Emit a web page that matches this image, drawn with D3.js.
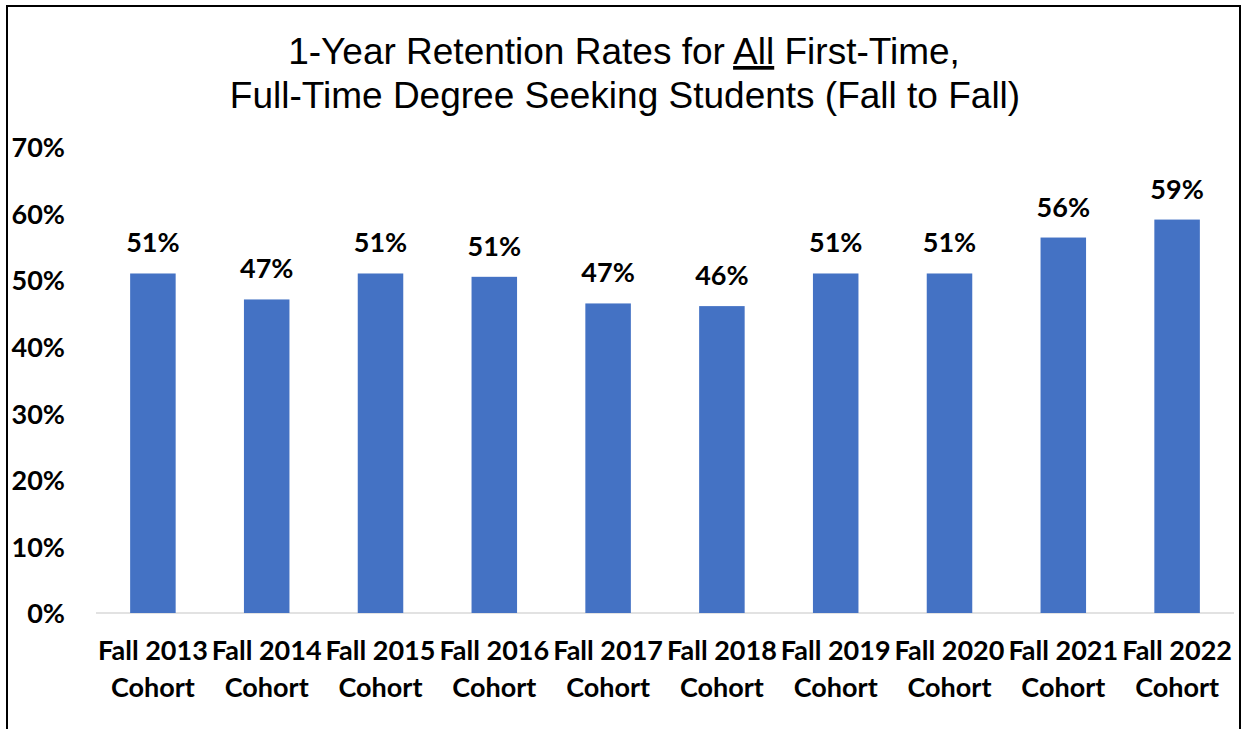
<!DOCTYPE html>
<html>
<head>
<meta charset="utf-8">
<script src="https://cdn.jsdelivr.net/npm/d3@7"></script>
<style>
  html, body { margin: 0; padding: 0; background: #fff; }
  svg { display: block; }
</style>
</head>
<body>
<svg id="chart" width="1244" height="729"></svg>
<script>
const categories = ["Fall 2013", "Fall 2014", "Fall 2015", "Fall 2016", "Fall 2017",
                    "Fall 2018", "Fall 2019", "Fall 2020", "Fall 2021", "Fall 2022"];
const categorySuffix = "Cohort";
const retention = [51.0, 47.1, 51.0, 50.5, 46.5, 46.1, 51.0, 51.0, 56.4, 59.1];
const yTicks = [0, 10, 20, 30, 40, 50, 60, 70];
const titleLine1 = ["1-Year Retention Rates for ", "All", " First-Time,"];
const titleLine2 = "Full-Time Degree Seeking Students (Fall to Fall)";

const svg = d3.select("#chart");
const plot = { left: 96, right: 1234, top: 147, bottom: 613 };

// frame
svg.append("rect").attr("x", 7).attr("y", 6).attr("width", 1233).attr("height", 760)
  .attr("fill", "none").attr("stroke", "#000").attr("stroke-width", 2);

const x = d3.scaleBand().domain(categories).range([plot.left, plot.right])
  .paddingInner(0.6).paddingOuter(0.3);
const y = d3.scaleLinear().domain([0, 70]).range([plot.bottom, plot.top]);

// title
const tFont = "'Liberation Sans', Arial, sans-serif";
const t1 = svg.append("text").attr("x", 624).attr("y", 64)
  .attr("text-anchor", "middle").attr("font-family", tFont).attr("font-size", 37).attr("fill", "#000");
titleLine1.forEach((s, i) => {
  t1.append("tspan").text(s).attr("text-decoration", i === 1 ? "underline" : null);
});
svg.append("text").attr("x", 625).attr("y", 108)
  .attr("text-anchor", "middle").attr("font-family", tFont).attr("font-size", 37).attr("fill", "#000")
  .text(titleLine2);

const bFont = "Lato, 'Open Sans', sans-serif";

// y axis labels
const yAxis = d3.axisLeft(y).tickValues(yTicks).tickFormat(d => d + "%").tickSize(0).tickPadding(0);
const gy = svg.append("g").attr("transform", "translate(65,0)").call(yAxis);
gy.select(".domain").remove();
gy.selectAll("text").attr("font-family", bFont).attr("font-weight", "bold")
  .attr("font-size", 27).attr("fill", "#000").attr("dy", "0.36em");

// baseline
svg.append("line").attr("x1", plot.left).attr("x2", plot.right)
  .attr("y1", y(0)).attr("y2", y(0)).attr("stroke", "#D9D9D9").attr("stroke-width", 1.5);

// bars
svg.append("g").selectAll("rect").data(retention).join("rect")
  .attr("x", (d, i) => x(categories[i]))
  .attr("width", x.bandwidth())
  .attr("y", d => y(d))
  .attr("height", d => y(0) - y(d))
  .attr("fill", "#4472C4");

// data labels
svg.append("g").selectAll("text").data(retention).join("text")
  .attr("x", (d, i) => x(categories[i]) + x.bandwidth() / 2)
  .attr("y", d => y(d) - 21)
  .attr("text-anchor", "middle")
  .attr("font-family", bFont).attr("font-weight", "bold").attr("font-size", 27).attr("fill", "#000")
  .text(d => Math.round(d) + "%");

// category labels
const xAxis = d3.axisBottom(x).tickSize(0).tickPadding(0);
const gx = svg.append("g").call(xAxis);
gx.select(".domain").remove();
gx.selectAll(".tick text").each(function(d) {
  const t = d3.select(this);
  t.text(null).attr("y", 0).attr("dy", null)
   .attr("font-family", bFont).attr("font-weight", "bold").attr("font-size", 27).attr("fill", "#000");
  t.append("tspan").attr("x", 0).attr("y", 660).text(d);
  t.append("tspan").attr("x", 0).attr("y", 697).text(categorySuffix);
});
</script>
</body>
</html>
